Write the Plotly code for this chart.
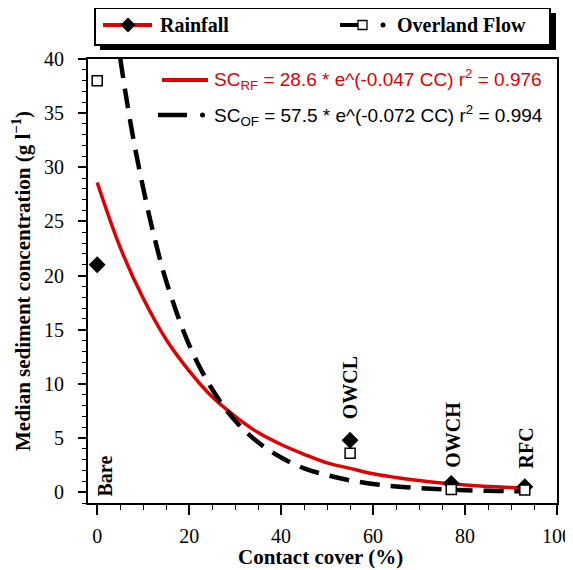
import plotly.graph_objects as go

# Observed medians
cover = [0, 55, 77, 93]
rainfall = [21.0, 4.8, 0.8, 0.5]
overland = [38.0, 3.6, 0.25, 0.2]
site_labels = ["Bare", "OWCL", "OWCH", "RFC"]
label_y = [1.5, 9.6, 5.25, 4.05]
label_x = [1.6, 55, 77.5, 93.3]

# Fitted curves
rf_x = [0, 5, 10, 15, 20, 25, 30, 35, 40, 45, 50, 55, 60, 65, 70, 75, 80, 85, 90, 93]
rf_y = [28.6, 22.6, 17.9, 14.1, 11.2, 8.8, 7.0, 5.5, 4.4, 3.5, 2.7, 2.2, 1.7, 1.35, 1.07, 0.84, 0.67, 0.53, 0.42, 0.36]
of_x = [5, 6, 8, 10, 12, 15, 20, 25, 30, 35, 40, 45, 50, 55, 60, 65, 70, 75, 80, 85, 90, 93]
of_y = [40.1, 37.3, 32.3, 28.1, 24.3, 19.5, 13.6, 9.5, 6.6, 4.6, 3.2, 2.2, 1.57, 1.09, 0.76, 0.53, 0.37, 0.26, 0.18, 0.13, 0.09, 0.07]

legend_names = ["Rainfall", "Overland Flow"]
eq_rf = "SC<sub>RF</sub> = 28.6 * e^(-0.047 CC) r<sup>2</sup> = 0.976"
eq_of = "SC<sub>OF</sub> = 57.5 * e^(-0.072 CC) r<sup>2</sup> = 0.994"
x_title = "Contact cover (%)"
y_title = "Median sediment concentration (g l<sup>\u22121</sup>)"

serif = "Liberation Serif, Times New Roman, serif"
sans = "Liberation Sans, Arial, sans-serif"
RED = "#e00000"
dash_of = "20px,11px"

fig = go.Figure()
fig.add_trace(go.Scatter(x=rf_x, y=rf_y, mode="lines", line=dict(color=RED, width=3.5, shape="spline"),
                         showlegend=False, hoverinfo="skip"))
fig.add_trace(go.Scatter(x=of_x, y=of_y, mode="lines", line=dict(color="black", width=4.5, dash=dash_of, shape="spline"),
                         showlegend=False, hoverinfo="skip"))
fig.add_trace(go.Scatter(x=cover, y=rainfall, mode="markers", showlegend=False, name=legend_names[0],
                         marker=dict(symbol="diamond", size=13, color="black")))
fig.add_trace(go.Scatter(x=cover, y=overland, mode="markers", showlegend=False, name=legend_names[1],
                         marker=dict(symbol="square", size=10, color="white", line=dict(color="black", width=1.5))))

for t, xx, yy in zip(site_labels, label_x, label_y):
    fig.add_annotation(x=xx, y=yy, text=t, textangle=-90, showarrow=False,
                       font=dict(family=serif, size=20, color="black", weight="bold"))

# helpers: pixel (reference picture) -> paper coordinates
W, H = 469, 444
def px(x): return (x - 88) / W
def py(y): return (503 - y) / H

shapes = []
# legend box with shadow
shapes.append(dict(type="rect", xref="paper", yref="paper", x0=px(100), x1=px(556), y0=py(50), y1=py(13),
                   fillcolor="black", line=dict(width=0)))
shapes.append(dict(type="rect", xref="paper", yref="paper", x0=px(95), x1=px(550), y0=py(45), y1=py(8),
                   fillcolor="white", line=dict(color="black", width=2)))
# legend glyphs: rainfall
shapes.append(dict(type="line", xref="paper", yref="paper", x0=px(103), x1=px(152), y0=py(25), y1=py(25),
                   line=dict(color=RED, width=4)))
cx, cy, r = 128, 25, 7.5
shapes.append(dict(type="path", xref="paper", yref="paper",
                   path=f"M {px(cx-r)},{py(cy)} L {px(cx)},{py(cy-r)} L {px(cx+r)},{py(cy)} L {px(cx)},{py(cy+r)} Z",
                   fillcolor="black", line=dict(color="black", width=0)))
# legend glyphs: overland flow
shapes.append(dict(type="line", xref="paper", yref="paper", x0=px(340), x1=px(358), y0=py(25), y1=py(25),
                   line=dict(color="black", width=4)))
shapes.append(dict(type="rect", xref="paper", yref="paper", x0=px(358), x1=px(367), y0=py(29.5), y1=py(20.5),
                   fillcolor="white", line=dict(color="black", width=1.3)))
shapes.append(dict(type="circle", xref="paper", yref="paper", x0=px(380.5), x1=px(385.5), y0=py(27.5), y1=py(22.5),
                   fillcolor="black", line=dict(width=0)))
# equation glyphs
shapes.append(dict(type="line", xref="paper", yref="paper", x0=px(162), x1=px(208), y0=py(80), y1=py(80),
                   line=dict(color=RED, width=4)))
shapes.append(dict(type="line", xref="paper", yref="paper", x0=px(158), x1=px(187), y0=py(115), y1=py(115),
                   line=dict(color="black", width=4.5)))
shapes.append(dict(type="circle", xref="paper", yref="paper", x0=px(200), x1=px(205), y0=py(112.5), y1=py(117.5),
                   fillcolor="black", line=dict(width=0)))

fig.add_annotation(xref="paper", yref="paper", x=px(158), y=py(25), xanchor="left", yanchor="middle",
                   showarrow=False, text=legend_names[0],
                   font=dict(family=serif, size=20, color="black", weight="bold"))
fig.add_annotation(xref="paper", yref="paper", x=px(395), y=py(25), xanchor="left", yanchor="middle",
                   showarrow=False, text=legend_names[1],
                   font=dict(family=serif, size=20, color="black", weight="bold"))
fig.add_annotation(xref="paper", yref="paper", x=px(212), y=py(80), xanchor="left", yanchor="middle",
                   showarrow=False, font=dict(family=sans, size=19, color=RED), text=eq_rf)
fig.add_annotation(xref="paper", yref="paper", x=px(212), y=py(115), xanchor="left", yanchor="middle",
                   showarrow=False, font=dict(family=sans, size=19, color="black"), text=eq_of)
# x-axis title
fig.add_annotation(xref="paper", yref="paper", x=px(320), y=py(557), xanchor="center", yanchor="middle",
                   showarrow=False, text=x_title,
                   font=dict(family=serif, size=21, color="black", weight="bold"))

fig.update_layout(
    width=565, height=562,
    margin=dict(l=80, r=16, t=51, b=67, autoexpand=False),
    paper_bgcolor="white", plot_bgcolor="white",
    showlegend=False,
    shapes=shapes,
    xaxis=dict(range=[-2, 100], tickmode="array", tickvals=[0, 20, 40, 60, 80, 100],
               ticks="outside", ticklen=10, tickwidth=1.5, tickcolor="black",
               minor=dict(dtick=5, ticks="outside", ticklen=5, tickcolor="black", tickwidth=1),
               ticklabelstandoff=4,
               showline=True, linecolor="black", linewidth=2, mirror=True, showgrid=False, zeroline=False,
               tickfont=dict(family=serif, size=20, color="black")),
    yaxis=dict(range=[-1, 40], tickmode="array", tickvals=[0, 5, 10, 15, 20, 25, 30, 35, 40],
               ticks="outside", ticklen=8, tickwidth=1.5, tickcolor="black",
               minor=dict(dtick=1, ticks="outside", ticklen=4, tickcolor="black", tickwidth=1),
               ticklabelstandoff=10,
               showline=True, linecolor="black", linewidth=2, mirror=True, showgrid=False, zeroline=False,
               tickfont=dict(family=serif, size=20, color="black"),
               title=dict(text=y_title, standoff=8,
                          font=dict(family=serif, size=21, color="black", weight="bold"))),
)

fig.write_html("out.html")
